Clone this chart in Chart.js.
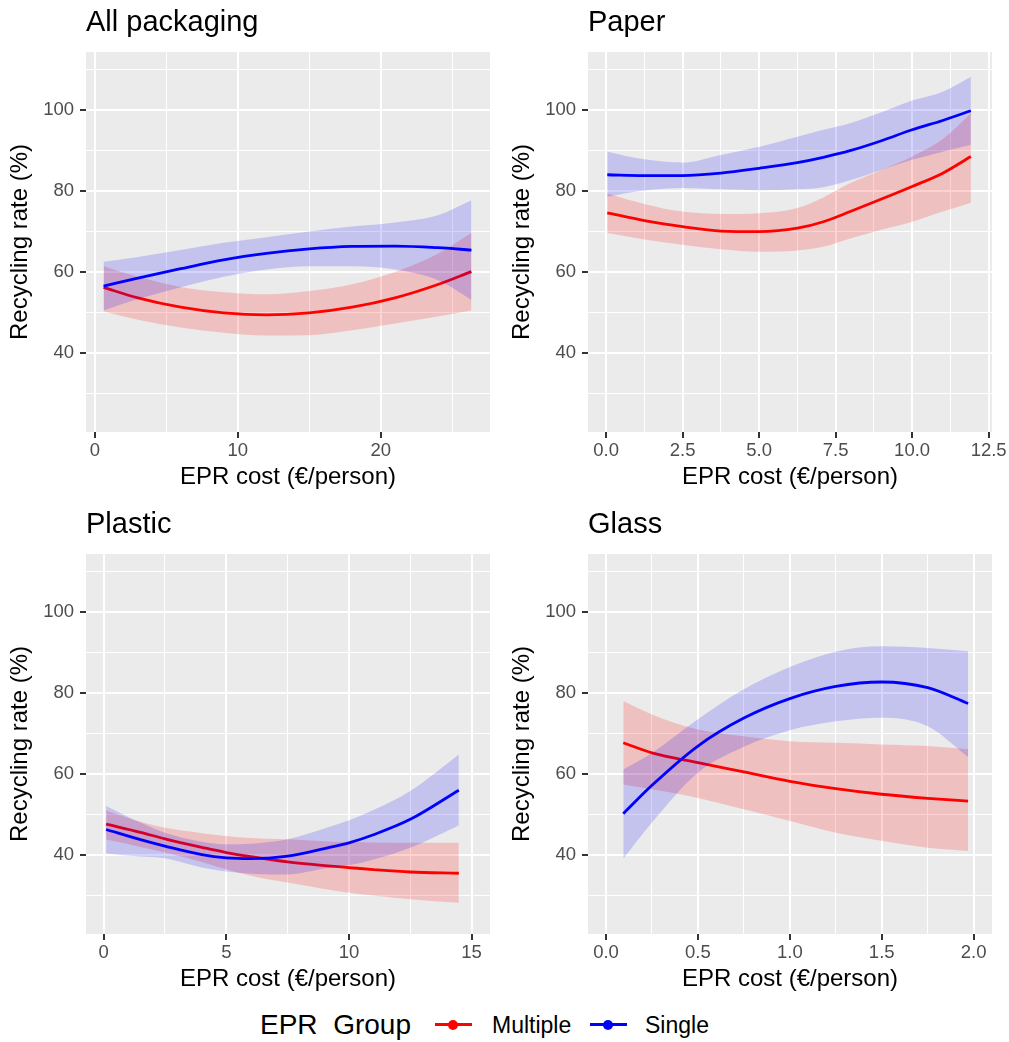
<!DOCTYPE html>
<html>
<head>
<meta charset="utf-8">
<script src="https://cdn.jsdelivr.net/npm/chart.js@4.4.1/dist/chart.umd.min.js"></script>
<style>
  html, body { margin: 0; padding: 0; background: #ffffff; }
  body { width: 1009px; height: 1042px; position: relative; overflow: hidden;
         font-family: "Liberation Sans", Arial, Helvetica, sans-serif; }
  canvas { position: absolute; }
  .lg { position: absolute; white-space: pre; color: #000; }
  .key-line { position: absolute; height: 3px; }
  .key-dot { position: absolute; width: 10px; height: 10px; border-radius: 50%; }
</style>
</head>
<body>
<canvas id="c1" width="500" height="500" style="left:0px;top:0px"></canvas>
<canvas id="c2" width="507" height="500" style="left:502px;top:0px"></canvas>
<canvas id="c3" width="500" height="500" style="left:0px;top:502px"></canvas>
<canvas id="c4" width="507" height="500" style="left:502px;top:502px"></canvas>

<div id="legend">
  <div class="lg" style="left:260px;top:1011px;font-size:28px;line-height:28px;">EPR  Group</div>
  <div class="key-line" style="left:435px;top:1023px;width:37px;background:#FF0000;"></div>
  <div class="key-dot" style="left:448px;top:1019.5px;background:#FF0000;"></div>
  <div class="lg" style="left:492px;top:1014px;font-size:23px;line-height:23px;">Multiple</div>
  <div class="key-line" style="left:590px;top:1023px;width:37px;background:#0000FF;"></div>
  <div class="key-dot" style="left:603px;top:1019.5px;background:#0000FF;"></div>
  <div class="lg" style="left:645px;top:1014px;font-size:23px;line-height:23px;">Single</div>
</div>

<script>
// ---------------- DATA ----------------
const groups = ['Multiple', 'Single'];
const xTitle = 'EPR cost (€/person)';
const yTitle = 'Recycling rate (%)';

// shared y axis
const yMajorTicks = [40, 60, 80, 100];
const yMinorTicks = [30, 50, 70, 90, 110];
const yTickLabels = ['40', '60', '80', '100'];

// All packaging
const allX            = [0.6, 3, 6, 9, 12, 15, 18, 21, 24, 26.35];
const allMultiple     = [56.2, 53.6, 51.3, 49.9, 49.4, 49.9, 51.3, 53.6, 56.9, 60.1];
const allMultipleLow  = [50.3, 48.2, 46.3, 45.0, 44.3, 44.4, 45.6, 47.3, 49.0, 50.5];
const allMultipleHigh = [61.4, 58.8, 56.3, 55.0, 54.5, 55.3, 57.0, 60.0, 64.5, 69.6];
const allSingle       = [56.5, 58.5, 60.8, 63.0, 64.6, 65.7, 66.3, 66.4, 66.0, 65.4];
const allSingleLow    = [50.5, 53.3, 56.2, 58.8, 60.6, 61.4, 61.4, 60.6, 58.0, 53.1];
const allSingleHigh   = [62.5, 63.7, 65.4, 67.2, 68.6, 70.0, 71.2, 72.2, 74.0, 77.7];
const allMajorTicks   = [0, 10, 20];
const allMinorTicks   = [5, 15, 25];
const allTickLabels   = ['0', '10', '20'];

// Paper
const paperX            = [0.04, 1.25, 2.5, 3.75, 5, 6.25, 7.1, 8, 9, 10, 11, 11.92];
const paperMultiple     = [74.6, 72.7, 71.2, 70.1, 69.95, 70.8, 72.4, 75.0, 78.0, 81.1, 84.4, 88.5];
const paperMultipleLow  = [69.6, 68.0, 66.7, 65.6, 65.0, 65.3, 66.2, 68.3, 70.4, 72.4, 74.9, 77.1];
const paperMultipleHigh = [79.4, 76.8, 74.9, 74.3, 74.5, 75.8, 78.4, 82.0, 85.2, 88.5, 92.8, 99.2];
const paperSingle       = [84.0, 83.8, 83.8, 84.4, 85.6, 87.0, 88.3, 90.0, 92.4, 95.1, 97.4, 99.8];
const paperSingleLow    = [78.6, 80.1, 80.7, 80.4, 80.2, 80.4, 80.9, 82.7, 85.2, 87.7, 89.7, 91.4];
const paperSingleHigh   = [89.7, 87.8, 87.0, 88.9, 90.9, 93.4, 95.1, 96.8, 99.4, 102.3, 104.5, 108.2];
const paperMajorTicks   = [0, 2.5, 5, 7.5, 10, 12.5];
const paperMinorTicks   = [1.25, 3.75, 6.25, 8.75, 11.25];
const paperTickLabels   = ['0.0', '2.5', '5.0', '7.5', '10.0', '12.5'];

// Plastic
const plasticX            = [0.1, 1.5, 2.5, 4, 5, 6, 7.5, 9, 10, 11, 12.5, 14.48];
const plasticMultiple     = [47.6, 45.6, 44.0, 41.9, 40.6, 39.6, 38.3, 37.4, 36.9, 36.4, 35.8, 35.5];
const plasticMultipleLow  = [43.8, 42.0, 40.6, 38.3, 36.5, 34.9, 33.2, 31.6, 30.7, 30.0, 29.1, 28.2];
const plasticMultipleHigh = [51.0, 48.2, 46.7, 45.4, 44.7, 44.2, 43.9, 43.4, 43.2, 43.1, 43.0, 43.0];
const plasticSingle       = [46.3, 43.8, 42.2, 40.1, 39.3, 39.1, 39.75, 41.6, 43.0, 45.0, 48.8, 56.0];
const plasticSingleLow    = [40.4, 39.6, 39.2, 36.9, 35.95, 35.4, 35.2, 36.65, 37.45, 38.9, 41.8, 47.3];
const plasticSingleHigh   = [52.1, 48.0, 45.5, 43.3, 42.65, 42.8, 43.9, 46.55, 48.55, 51.1, 55.8, 64.8];
const plasticMajorTicks   = [0, 5, 10, 15];
const plasticMinorTicks   = [2.5, 7.5, 12.5];
const plasticTickLabels   = ['0', '5', '10', '15'];

// Glass
const glassX            = [0.094, 0.25, 0.5, 0.75, 1.0, 1.25, 1.5, 1.75, 1.97];
const glassMultiple     = [67.7, 65.2, 62.8, 60.5, 58.2, 56.4, 55.0, 54.0, 53.3];
const glassMultipleLow  = [57.4, 56.2, 54.1, 51.3, 48.4, 45.5, 43.5, 41.8, 41.0];
const glassMultipleHigh = [78.0, 74.7, 71.0, 69.3, 68.1, 67.7, 67.3, 66.9, 66.1];
const glassSingle       = [50.2, 57.2, 66.9, 73.8, 78.6, 81.6, 82.7, 81.3, 77.4];
const glassSingleLow    = [39.1, 48.0, 60.3, 66.7, 70.8, 73.0, 73.9, 71.8, 64.2];
const glassSingleHigh   = [61.1, 65.2, 73.5, 80.9, 86.4, 90.2, 91.5, 91.1, 90.3];
const glassMajorTicks   = [0, 0.5, 1.0, 1.5, 2.0];
const glassMinorTicks   = [0.25, 0.75, 1.25, 1.75];
const glassTickLabels   = ['0.0', '0.5', '1.0', '1.5', '2.0'];

// ---------------- STYLE ----------------
const COLORS = { Multiple: '#FF0000', Single: '#0000FF' };
const FILLS  = { Multiple: 'rgba(255,0,0,0.18)', Single: 'rgba(0,0,255,0.17)' };
const FONT = '"Liberation Sans", Arial, Helvetica, sans-serif';
Chart.defaults.font.family = FONT;

const panelBg = {
  id: 'panelBg',
  beforeDraw(chart) {
    const { ctx, chartArea: a } = chart;
    ctx.save();
    ctx.fillStyle = '#EBEBEB';
    ctx.fillRect(a.left, a.top, a.right - a.left, a.bottom - a.top);
    ctx.restore();
  }
};

function pts(xs, ys) { return xs.map((x, i) => ({ x: x, y: ys[i] })); }
function near(v, list) { return list.some(t => Math.abs(t - v) < 1e-9); }

function makePanel(id, p) {
  const lineDs = (label, xs, ys) => ({
    label: label, data: pts(xs, ys), borderColor: COLORS[label], borderWidth: 2.8,
    pointRadius: 0, fill: false, cubicInterpolationMode: 'monotone'
  });
  const bandDs = (label, xs, ys, fill) => ({
    label: label + ' band', data: pts(xs, ys), borderWidth: 0, borderColor: 'rgba(0,0,0,0)',
    backgroundColor: FILLS[label], pointRadius: 0, fill: fill, cubicInterpolationMode: 'monotone'
  });
  const datasets = [
    lineDs('Single', p.x, p.single),
    bandDs('Single', p.x, p.singleHigh, false),
    bandDs('Single', p.x, p.singleLow, '-1'),
    lineDs('Multiple', p.x, p.multiple),
    bandDs('Multiple', p.x, p.multipleHigh, false),
    bandDs('Multiple', p.x, p.multipleLow, '-1')
  ];
  const xAll = p.major.concat(p.minor).sort((a, b) => a - b);
  const yAll = yMajorTicks.concat(yMinorTicks).sort((a, b) => a - b);
  return new Chart(document.getElementById(id), {
    type: 'line',
    data: { datasets: datasets },
    plugins: [panelBg],
    options: {
      responsive: false, animation: false, events: [], devicePixelRatio: 1,
      layout: { padding: { left: 0, right: p.padRight, top: 0, bottom: 0 } },
      plugins: {
        legend: { display: false },
        tooltip: { enabled: false },
        title: {
          display: true, text: p.title, align: 'start', fullSize: false, color: '#000000',
          font: { size: 29, weight: 'normal', family: FONT },
          padding: { top: 6, bottom: 11.2 }
        }
      },
      scales: {
        x: {
          type: 'linear', min: p.xMin, max: p.xMax, bounds: 'data',
          afterBuildTicks: s => { s.ticks = xAll.map(v => ({ value: v })); },
          afterFit: s => { s.height = 68; s.paddingLeft = 0; s.paddingRight = 0; },
          ticks: {
            autoSkip: false, maxRotation: 0, minRotation: 0, padding: 2, color: '#4D4D4D',
            font: { size: 18.5 },
            callback: v => { const i = p.major.findIndex(t => Math.abs(t - v) < 1e-9); return i >= 0 ? p.labels[i] : ''; }
          },
          grid: {
            color: '#FFFFFF',
            lineWidth: c => (c.tick && near(c.tick.value, p.major)) ? 2 : 1,
            drawTicks: true, tickLength: 6, tickWidth: 2,
            tickColor: c => (c.tick && near(c.tick.value, p.major)) ? '#333333' : 'rgba(0,0,0,0)'
          },
          border: { display: false },
          title: { display: true, text: xTitle, color: '#000000', font: { size: 24 }, padding: { top: 0, bottom: 8 } }
        },
        y: {
          type: 'linear', min: 20.5, max: 114.3, bounds: 'data',
          afterBuildTicks: s => { s.ticks = yAll.map(v => ({ value: v })); },
          afterFit: s => { s.width = 86; s.paddingTop = 0; s.paddingBottom = 0; },
          ticks: {
            autoSkip: false, padding: 6, color: '#4D4D4D', font: { size: 18.5 },
            callback: v => { const i = yMajorTicks.indexOf(v); return i >= 0 ? yTickLabels[i] : ''; }
          },
          grid: {
            color: '#FFFFFF',
            lineWidth: c => (c.tick && near(c.tick.value, yMajorTicks)) ? 2 : 1,
            drawTicks: true, tickLength: 6, tickWidth: 2,
            tickColor: c => (c.tick && near(c.tick.value, yMajorTicks)) ? '#333333' : 'rgba(0,0,0,0)'
          },
          border: { display: false },
          title: { display: true, text: yTitle, color: '#000000', font: { size: 24 }, padding: { top: 6, bottom: 0 } }
        }
      }
    }
  });
}

makePanel('c1', {
  title: 'All packaging', x: allX, multiple: allMultiple, multipleLow: allMultipleLow, multipleHigh: allMultipleHigh,
  single: allSingle, singleLow: allSingleLow, singleHigh: allSingleHigh,
  major: allMajorTicks, minor: allMinorTicks, labels: allTickLabels, xMin: -0.63, xMax: 27.65, padRight: 10
});
makePanel('c2', {
  title: 'Paper', x: paperX, multiple: paperMultiple, multipleLow: paperMultipleLow, multipleHigh: paperMultipleHigh,
  single: paperSingle, singleLow: paperSingleLow, singleHigh: paperSingleHigh,
  major: paperMajorTicks, minor: paperMinorTicks, labels: paperTickLabels, xMin: -0.59, xMax: 12.61, padRight: 17
});
makePanel('c3', {
  title: 'Plastic', x: plasticX, multiple: plasticMultiple, multipleLow: plasticMultipleLow, multipleHigh: plasticMultipleHigh,
  single: plasticSingle, singleLow: plasticSingleLow, singleHigh: plasticSingleHigh,
  major: plasticMajorTicks, minor: plasticMinorTicks, labels: plasticTickLabels, xMin: -0.72, xMax: 15.75, padRight: 10
});
makePanel('c4', {
  title: 'Glass', x: glassX, multiple: glassMultiple, multipleLow: glassMultipleLow, multipleHigh: glassMultipleHigh,
  single: glassSingle, singleLow: glassSingleLow, singleHigh: glassSingleHigh,
  major: glassMajorTicks, minor: glassMinorTicks, labels: glassTickLabels, xMin: -0.098, xMax: 2.1, padRight: 17
});
</script>
</body>
</html>
